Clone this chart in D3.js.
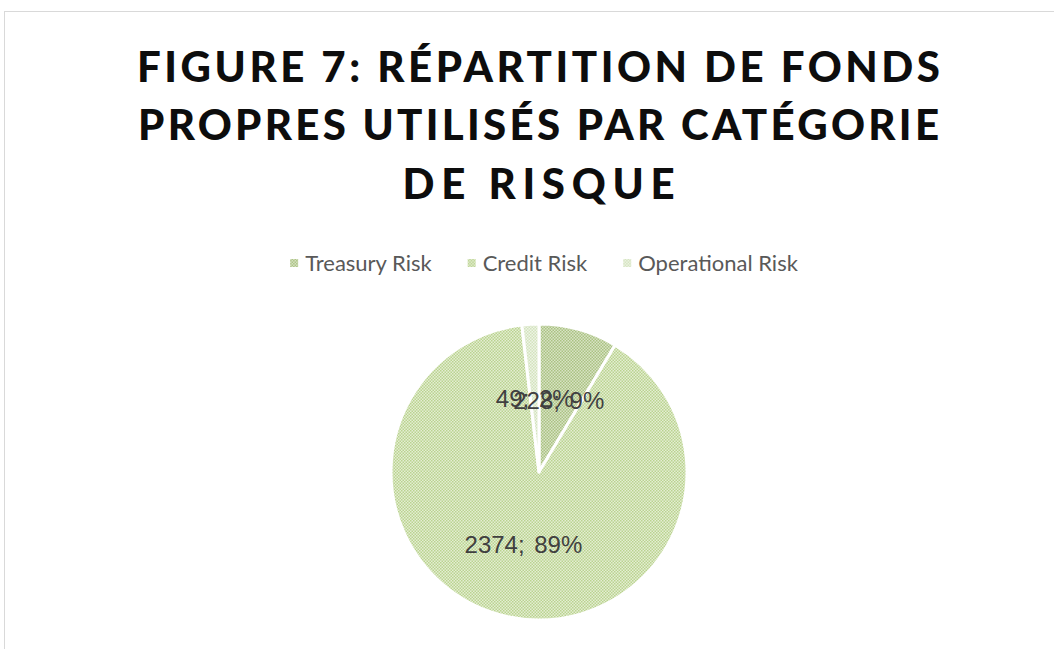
<!DOCTYPE html>
<html>
<head>
<meta charset="utf-8">
<script src="https://cdn.jsdelivr.net/npm/d3@7"></script>
<style>
  html, body { margin: 0; padding: 0; background: #fff; }
  svg { display: block; }
</style>
</head>
<body>
<div id="chart"></div>
<script>
// données
const categories = ["Treasury Risk", "Credit Risk", "Operational Risk"];
const values = [228, 2374, 49];
const percentLabels = ["9%", "89%", "2%"];
const titleLines = ["FIGURE 7: RÉPARTITION DE FONDS", "PROPRES UTILISÉS PAR CATÉGORIE", "DE RISQUE"];

const W = 1054, H = 649;
const cx = 539, cy = 472, R = 148;

// motifs façon Excel (fond clair + hachures fines)
const patternColors = [
  { bg: "#d8e3c5", fg: "#aac282" },
  { bg: "#e4eed3", fg: "#bad38f" },
  { bg: "#eef4e6", fg: "#d3e3bd" }
];

const svg = d3.select("#chart").append("svg")
  .attr("width", W)
  .attr("height", H);

const defs = svg.append("defs");
patternColors.forEach((c, i) => {
  const p = defs.append("pattern")
    .attr("id", "pat" + i)
    .attr("patternUnits", "userSpaceOnUse")
    .attr("width", 3).attr("height", 3);
  p.append("rect").attr("width", 3).attr("height", 3).attr("fill", c.bg);
  p.append("rect").attr("x", 0).attr("y", 0).attr("width", 1.5).attr("height", 1.5).attr("fill", c.fg);
  p.append("rect").attr("x", 1.5).attr("y", 1.5).attr("width", 1.5).attr("height", 1.5).attr("fill", c.fg);
});

// cadre de la zone graphique
svg.append("rect")
  .attr("x", 4.5).attr("y", 11.5)
  .attr("width", W + 10).attr("height", H + 10)
  .attr("fill", "none")
  .attr("stroke", "#d9d9d9")
  .attr("stroke-width", 1);

/* ── Titre ───────────────────────────── */
const titleSpecs = [
  { y: 82, len: 803 },
  { y: 140, len: 801 },
  { y: 199, len: 272 }
];
svg.selectAll(".title")
  .data(titleLines)
  .enter().append("text")
  .attr("class", "title")
  .attr("x", 538.5)
  .attr("y", (d, i) => titleSpecs[i].y)
  .attr("text-anchor", "middle")
  .attr("textLength", (d, i) => titleSpecs[i].len)
  .attr("lengthAdjust", "spacing")
  .attr("fill", "#0d0d0d")
  .style("font-family", "Lato, 'Open Sans', sans-serif")
  .style("font-weight", "900")
  .style("font-size", "42px")
  .text(d => d);

/* ── Légende ─────────────────────────── */
const legend = svg.append("g");
let lx = 0;
categories.forEach((c, i) => {
  const item = legend.append("g").attr("transform", `translate(${lx},0)`);
  item.append("rect")
    .attr("x", 0).attr("y", -4)
    .attr("width", 8).attr("height", 8)
    .attr("fill", `url(#pat${i})`);
  const t = item.append("text")
    .attr("x", 15).attr("y", 0)
    .attr("dy", "0.35em")
    .attr("fill", "#595959")
    .style("font-family", "Lato, 'Open Sans', sans-serif")
    .style("font-size", "22px")
    .text(c);
  lx += 15 + t.node().getComputedTextLength() + 36;
});
const legendW = lx - 36;
legend.attr("transform", `translate(${544 - legendW / 2},263)`);

/* ── Camembert ───────────────────────── */
const pie = d3.pie().sort(null).value(d => d)(values);
const arc = d3.arc().innerRadius(0).outerRadius(R);

const g = svg.append("g").attr("transform", `translate(${cx},${cy})`);

g.selectAll(".slice")
  .data(pie)
  .enter().append("path")
  .attr("class", "slice")
  .attr("d", arc)
  .attr("fill", (d, i) => `url(#pat${i})`)
  .attr("stroke", "#fff")
  .attr("stroke-width", 3)
  .attr("stroke-linejoin", "round");

g.selectAll(".lbl")
  .data(pie)
  .enter().append("text")
  .attr("class", "lbl")
  .attr("transform", d => `translate(${arc.centroid(d)})`)
  .attr("text-anchor", "middle")
  .attr("dy", "0.35em")
  .attr("fill", "#404040")
  .style("font-family", "'Liberation Sans', Arial, sans-serif")
  .style("font-size", "24px")
  .style("word-spacing", "3px")
  .text((d, i) => `${values[i]}; ${percentLabels[i]}`);
</script>
</body>
</html>
